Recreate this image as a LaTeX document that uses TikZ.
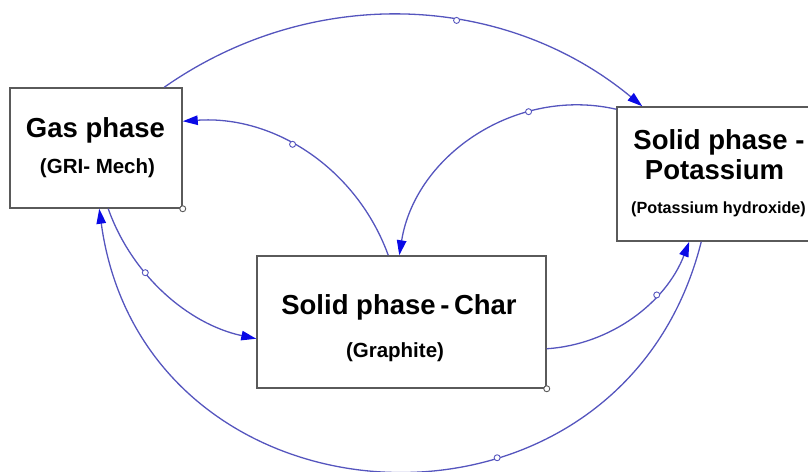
\documentclass[tikz,border=0pt]{standalone}
\usepackage{fontspec}
\setmainfont{Liberation Sans}
\usetikzlibrary{arrows.meta}
\definecolor{lnc}{RGB}{85,85,190}
\definecolor{tipc}{RGB}{10,10,230}
\definecolor{boxc}{RGB}{90,90,90}
\tikzset{
 box/.style={draw=boxc, line width=1.5pt, fill=white, inner sep=0pt},
 link/.style={draw=lnc, line width=1.3pt, -{Triangle[length=15pt,width=9.5pt,color=tipc]}},
 knob/.style={circle, draw=lnc, fill=white, line width=0.9pt, inner sep=0pt, minimum size=6pt},
 cknob/.style={knob, draw=boxc},
 ttl/.style={font=\fontsize{27.5}{30}\selectfont\bfseries, anchor=base, inner sep=0pt},
 sub/.style={font=\fontsize{20.5}{24}\selectfont\bfseries, anchor=base, inner sep=0pt},
 subs/.style={font=\fontsize{16.2}{19}\selectfont\bfseries, anchor=base, inner sep=0pt},
}
\begin{document}
\begin{tikzpicture}[x=1pt,y=1pt]
\useasboundingbox (0,0) rectangle (808,471);
\clip (0,0) rectangle (808,471);
% boxes
\node[box, minimum width=172pt, minimum height=120pt] (gas) at (96,323) {};
\node[box, minimum width=195pt, minimum height=134pt] (pot) at (714.5,297) {};
\node[box, minimum width=289pt, minimum height=132pt] (char) at (401.5,149) {};
% texts
\node[ttl] (gasT) at (95.5,333) {Gas phase};
\node[sub] (gasS) at (97.5,297) {(GRI- Mech)};
\node[ttl] (potT) at (719,321) {Solid phase -};
\node[ttl] (potU) at (714.5,291) {Potassium};
\node[subs] (potS) at (718.5,257.4) {(Potassium hydroxide)};
\node[ttl] (charT) at (399,156) {Solid phase\,-\,Char};
\node[sub] (charS) at (395,113.3) {(Graphite)};
% connector end points
\coordinate (a1s) at ([xshift=155pt]gas.north west);
\coordinate (a1e) at ([xshift=26pt]pot.north west);
\coordinate (a2s) at ([xshift=132pt]char.north west);
\coordinate (a2e) at ([yshift=-34pt]gas.north east);
\coordinate (a3s) at ([yshift=-3pt]pot.north west);
\coordinate (a3e) at ([xshift=143pt]char.north west);
\coordinate (a4s) at ([xshift=99pt]gas.south west);
\coordinate (a4e) at ([yshift=50pt]char.south west);
\coordinate (a5s) at ([yshift=40pt]char.south east);
\coordinate (a5e) at ([xshift=73pt]pot.south west);
\coordinate (a6s) at ([xshift=85pt]pot.south west);
\coordinate (a6e) at ([xshift=90pt]gas.south west);
% connectors
\draw[link] (a1s) to[out=35,in=140.4,looseness=0.96] node[knob,pos=0.6] (k1) {} (a1e);
\draw[link] (a2s) to[out=110,in=3.9,looseness=0.96] node[knob,pos=0.57] (k2) {} (a2e);
\draw[link] (a3s) to[out=167.1,in=80.8,looseness=1.0] node[knob,pos=0.30] (k3) {} (a3e);
\draw[link] (a4s) to[out=-70.5,in=167.9,looseness=0.91] node[knob,pos=0.36] (k4) {} (a4e);
\draw[link] (a5s) to[out=3.8,in=248.9,looseness=0.93] node[knob,pos=0.67] (k5) {} (a5e);
\draw[link] (a6s) to[out=255.9,in=-82.2,looseness=1.415] node[knob,pos=0.362] (k6) {} (a6e);
% corner knobs
\node[cknob] (gk) at (gas.south east) {};
\node[cknob] (ck) at (char.south east) {};
\end{tikzpicture}
\end{document}
